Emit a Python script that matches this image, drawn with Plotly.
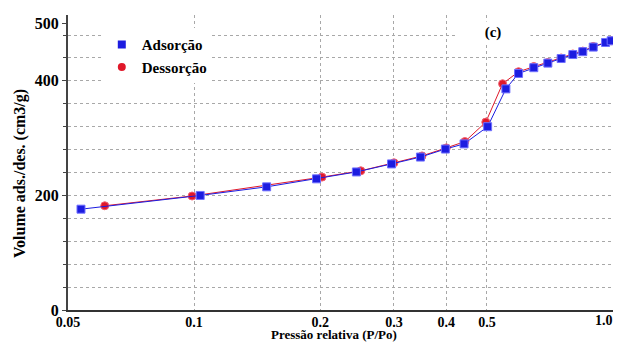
import plotly.graph_objects as go

# Adsorption (blue squares)
ads_p = [0.0537, 0.1034, 0.149, 0.196, 0.244, 0.296, 0.347, 0.398, 0.441, 0.502,
         0.555, 0.595, 0.647, 0.699, 0.752, 0.802, 0.847, 0.897, 0.960, 0.990]
ads_v = [176, 200, 215, 229, 241, 255, 267, 281, 290, 320,
         386, 413, 423, 431, 439, 446, 451, 459, 467, 470]

# Desorption (red circles)
des_p = [0.0612, 0.0989, 0.202, 0.250, 0.300, 0.350, 0.400, 0.443, 0.497,
         0.545, 0.595, 0.647, 0.699, 0.752, 0.802, 0.847, 0.897, 0.960, 0.990]
des_v = [182, 199, 232, 243, 257, 269, 283, 294, 328,
         395, 416, 425, 432, 440, 447, 452, 460, 467, 470]

x_tickvals = [0.05, 0.1, 0.2, 0.3, 0.4, 0.5, 1.0]
x_ticktext = ["0.05", "0.1", "0.2", "0.3", "0.4", "0.5", "1.0"]
x_gridvals = [0.1, 0.2, 0.3, 0.4, 0.5]
y_tickvals = [0, 200, 400, 500]
y_ticktext = ["0", "200", "400", "500"]
y_gridvals = [40 * i for i in range(1, 13)]

BLUE = "#1c1ce0"
RED = "#e0182a"
FONT = "Liberation Serif"

fig = go.Figure()
fig.add_trace(go.Scatter(
    x=des_p, y=des_v, mode="lines+markers", showlegend=False,
    line=dict(color=RED, width=1),
    marker=dict(symbol="circle", size=8, color=RED, line=dict(color="#f06070", width=1)),
))
fig.add_trace(go.Scatter(
    x=ads_p, y=ads_v, mode="lines+markers", showlegend=False,
    line=dict(color=BLUE, width=1),
    marker=dict(symbol="square", size=8, color=BLUE, line=dict(color="#7070ff", width=1)),
))
# legend entries (markers only)
fig.add_trace(go.Scatter(x=[None], y=[None], mode="markers", name="Adsorção",
                         marker=dict(symbol="square", size=8, color=BLUE)))
fig.add_trace(go.Scatter(x=[None], y=[None], mode="markers", name="Dessorção",
                         marker=dict(symbol="circle", size=8, color=RED)))

fig.update_layout(
    width=617, height=344,
    margin=dict(l=68, r=4, t=15, b=34),
    paper_bgcolor="white", plot_bgcolor="white",
    font=dict(family=FONT, size=15, color="black"),
    showlegend=True,
    legend=dict(x=0.062, y=0.955, xanchor="left", yanchor="top",
                bgcolor="white", borderwidth=0,
                font=dict(family=FONT, size=15, color="black", weight="bold"),
                tracegroupgap=0, itemwidth=30),
    xaxis=dict(
        type="log", range=[-1.30103, 0],
        tickvals=x_tickvals[:-1], ticktext=[f"<b>{t}</b>" for t in x_ticktext[:-1]],
        showgrid=False, zeroline=False,
        showline=True, linecolor="#333333", linewidth=2,
        ticks="", ticklen=0, ticklabelstandoff=-2,
        tickfont=dict(family=FONT, size=14, color="black"),
        minor=dict(tickvals=x_gridvals, showgrid=True, gridcolor="#a8a8a8",
                   griddash="dot", gridwidth=1, ticks=""),
        automargin=False,
    ),
    yaxis=dict(
        range=[0, 515],
        tickvals=y_tickvals, ticktext=[f"<b>{t}</b>" for t in y_ticktext],
        showgrid=False, zeroline=False,
        showline=True, linecolor="#444444", linewidth=2,
        ticks="outside", ticklen=4, tickcolor="#444444",
        tickfont=dict(family=FONT, size=16, color="black"),
        minor=dict(tickvals=y_gridvals, showgrid=True, gridcolor="#a8a8a8",
                   griddash="dot", gridwidth=1, ticks="outside", ticklen=3,
                   tickcolor="#444444"),
        automargin=False,
    ),
    annotations=[
        dict(text="<b>Volume ads./des. (cm3/g)</b>", xref="paper", yref="paper",
             x=-0.088, y=0.461, xanchor="center", yanchor="middle", textangle=-90,
             showarrow=False, font=dict(family=FONT, size=16, color="black")),
        dict(text="<b>Pressão relativa (P/Po)</b>", xref="paper", yref="paper",
             x=0.488, y=-0.116, xanchor="center", yanchor="bottom",
             showarrow=False, font=dict(family=FONT, size=13, color="black")),
        dict(text="<b>(c)</b>", xref="paper", yref="paper", x=0.78, y=0.942,
             xanchor="center", yanchor="middle", showarrow=False,
             bgcolor="white", borderpad=2,
             font=dict(family=FONT, size=15, color="black"), width=70),
        dict(text=f"<b>{x_ticktext[-1]}</b>", xref="paper", yref="paper", x=1.0, y=0,
             xanchor="right", yanchor="top", yshift=-1, xshift=2, showarrow=False,
             font=dict(family=FONT, size=14, color="black")),
    ],
)

fig.write_html("out.html")
